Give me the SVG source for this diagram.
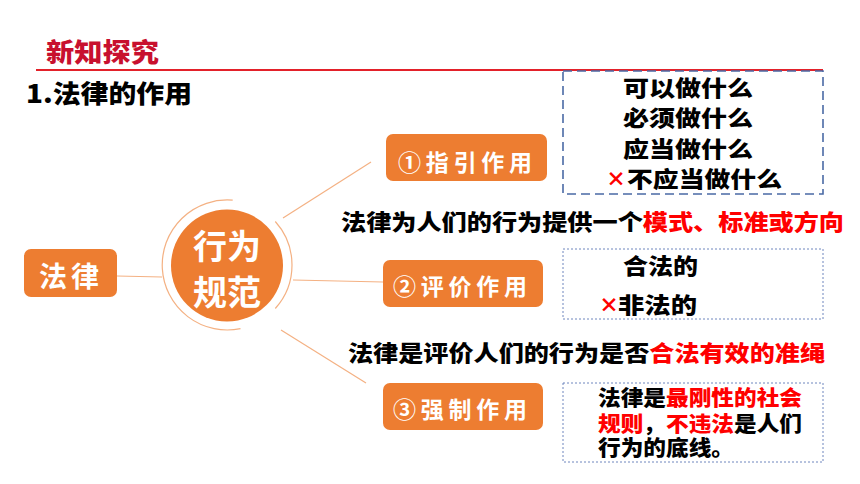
<svg xmlns="http://www.w3.org/2000/svg" width="860" height="484" viewBox="0 0 860 484">
<style>
text{font-family:"Noto Sans CJK SC","Noto Sans",sans-serif;font-weight:900}
.node{fill:#ED7D31}
.nt{fill:#ffffff;font-weight:700}
.bk{fill:#000000}
.rd{fill:#FF0000}
.conn{stroke:#F4B183;stroke-width:1.2;fill:none}
.dash1{fill:none;stroke:#4A6AA5;stroke-width:1.6;stroke-dasharray:9 5}
.dash2{fill:none;stroke:#6F86BE;stroke-width:1;stroke-dasharray:2 2}
</style>
<rect width="860" height="484" fill="#ffffff"/>
<g id="header">
<text x="46" y="62" font-size="26" fill="#C8102E" textLength="113" lengthAdjust="spacingAndGlyphs">新知探究</text>
<line x1="36" y1="70" x2="823" y2="70" stroke="#E3212A" stroke-width="2"/>
<text x="26" y="103" font-size="25" class="bk" textLength="166" lengthAdjust="spacingAndGlyphs">1.法律的作用</text>
</g>
<g id="connectors">
<line class="conn" x1="117" y1="276" x2="162" y2="277"/>
<line class="conn" x1="283" y1="218" x2="371" y2="162"/>
<line class="conn" x1="293" y1="280" x2="383" y2="282"/>
<line class="conn" x1="281" y1="330" x2="366" y2="383"/>
</g>
<g id="node-falv">
<rect class="node" x="24" y="249" width="93" height="48" rx="7"/>
<text x="39" y="287" font-size="28" class="nt" textLength="60" lengthAdjust="spacing">法律</text>
</g>
<g id="node-xingwei">
<path class="conn" d="M232.7,200.2 A65,65 0 1 0 240.5,328.6"/>
<path class="conn" d="M275.3,221.5 A65,65 0 0 1 275.3,308.5"/>
<circle class="node" cx="227" cy="265.5" r="56"/>
<text x="227" y="259" font-size="34" class="nt" text-anchor="middle">行为</text>
<text x="227" y="305" font-size="34" class="nt" text-anchor="middle">规范</text>
</g>
<g id="node-zhiyin">
<rect class="node" x="386" y="134" width="161" height="47" rx="7"/>
<text x="398" y="171" font-size="23" class="nt" textLength="134" lengthAdjust="spacing">①指引作用</text>
</g>
<g id="node-pingjia">
<rect class="node" x="383" y="260" width="160" height="47" rx="7"/>
<text x="393" y="295" font-size="23" class="nt" textLength="134" lengthAdjust="spacing">②评价作用</text>
</g>
<g id="node-qiangzhi">
<rect class="node" x="383" y="383" width="160" height="47" rx="7"/>
<text x="393" y="418" font-size="23" class="nt" textLength="134" lengthAdjust="spacing">③强制作用</text>
</g>
<g id="box-zhiyin">
<rect class="dash1" x="563" y="71" width="260" height="123"/>
<text x="623" y="96" font-size="22" class="bk" textLength="130" lengthAdjust="spacingAndGlyphs">可以做什么</text>
<text x="623" y="126" font-size="22" class="bk" textLength="130" lengthAdjust="spacingAndGlyphs">必须做什么</text>
<text x="623" y="157" font-size="22" class="bk" textLength="130" lengthAdjust="spacingAndGlyphs">应当做什么</text>
<text x="606" y="187" font-size="20" class="rd">×</text>
<text x="627" y="187" font-size="22" class="bk" textLength="155" lengthAdjust="spacingAndGlyphs">不应当做什么</text>
</g>
<g id="sentence-1">
<text x="341" y="230" font-size="22" class="bk" textLength="301.8" lengthAdjust="spacingAndGlyphs">法律为人们的行为提供一个</text>
<text x="642.8" y="230" font-size="22" class="rd" textLength="201.2" lengthAdjust="spacingAndGlyphs">模式、标准或方向</text>
</g>
<g id="box-pingjia">
<rect class="dash2" x="563" y="249" width="260" height="70"/>
<text x="623" y="274" font-size="22" class="bk" textLength="75" lengthAdjust="spacingAndGlyphs">合法的</text>
<text x="599" y="313" font-size="20" class="rd">×</text>
<text x="618" y="313" font-size="22" class="bk" textLength="79" lengthAdjust="spacingAndGlyphs">非法的</text>
</g>
<g id="sentence-2">
<text x="348" y="361" font-size="22" class="bk" textLength="301.3" lengthAdjust="spacingAndGlyphs">法律是评价人们的行为是否</text>
<text x="649.3" y="361" font-size="22" class="rd" textLength="175.7" lengthAdjust="spacingAndGlyphs">合法有效的准绳</text>
</g>
<g id="box-qiangzhi">
<rect class="dash2" x="563" y="383" width="260" height="79"/>
<text x="598" y="405" font-size="21" class="bk" textLength="68" lengthAdjust="spacingAndGlyphs">法律是</text>
<text x="666" y="405" font-size="21" class="rd" textLength="136" lengthAdjust="spacingAndGlyphs">最刚性的社会</text>
<text x="598" y="431" font-size="21" class="rd" textLength="45.3" lengthAdjust="spacingAndGlyphs">规则</text>
<text x="643.3" y="431" font-size="21" class="bk">，</text>
<text x="666" y="431" font-size="21" class="rd" textLength="68" lengthAdjust="spacingAndGlyphs">不违法</text>
<text x="734" y="431" font-size="21" class="bk" textLength="68" lengthAdjust="spacingAndGlyphs">是人们</text>
<text x="598" y="455" font-size="21" class="bk" textLength="136" lengthAdjust="spacingAndGlyphs">行为的底线。</text>
</g>
</svg>
